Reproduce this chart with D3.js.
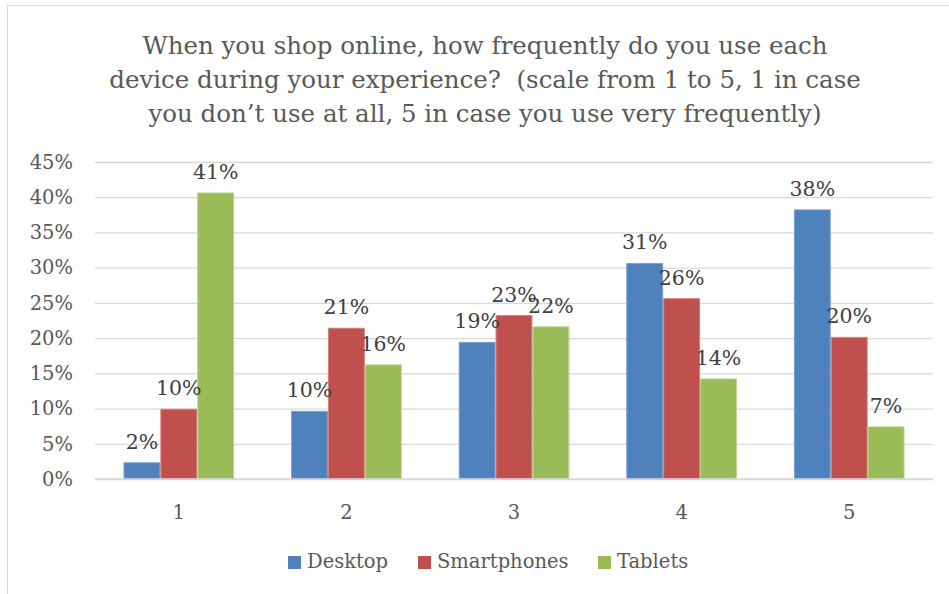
<!DOCTYPE html>
<html>
<head>
<meta charset="utf-8">
<script src="https://cdn.jsdelivr.net/npm/d3@7"></script>
<style>
  html, body { margin: 0; padding: 0; background: #ffffff; }
  svg { display: block; }
  text { font-family: "DejaVu Serif", "Liberation Serif", serif; }
</style>
</head>
<body>
<svg id="chart" width="949" height="594"></svg>
<script>
// Survey answers on a 1–5 usage scale, share of respondents per device
const categories = ["1", "2", "3", "4", "5"];
const seriesNames = ["Desktop", "Smartphones", "Tablets"];
const desktop = [0.023, 0.096, 0.194, 0.306, 0.382];
const smartphones = [0.099, 0.214, 0.232, 0.256, 0.201];
const tablets = [0.406, 0.162, 0.216, 0.142, 0.074];
const yTicks = [0, 0.05, 0.10, 0.15, 0.20, 0.25, 0.30, 0.35, 0.40, 0.45];
const titleLines = [
  "When you shop online, how frequently do you use each",
  "device during your experience?  (scale from 1 to 5, 1 in case",
  "you don\u2019t use at all, 5 in case you use very frequently)"
];

const seriesValues = [desktop, smartphones, tablets];
const colors = ["#4f81bd", "#c0504d", "#9bbb59"];
const strokes = ["#7aa0d2", "#d67d7b", "#b9d08a"];

const svg = d3.select("#chart");
const pct = d3.format(".0%");

// chart frame (runs off the right and bottom edges)
svg.append("rect")
  .attr("x", 7.5).attr("y", 5.5)
  .attr("width", 960).attr("height", 620)
  .attr("fill", "#ffffff")
  .attr("stroke", "#d9d9d9").attr("stroke-width", 1);

// title
svg.append("g")
  .selectAll("text")
  .data(titleLines)
  .join("text")
  .attr("x", 485)
  .attr("y", (d, i) => 54 + i * 34)
  .attr("text-anchor", "middle")
  .attr("font-size", 24.5)
  .attr("fill", "#595959")
  .style("white-space", "pre")
  .text(d => d);

const x = d3.scaleBand()
  .domain(categories)
  .range([95, 933])
  .paddingInner(0.34)
  .paddingOuter(0.17);

const xs = d3.scaleBand()
  .domain(seriesNames)
  .range([0, x.bandwidth()]);

const y = d3.scaleLinear()
  .domain([0, 0.45])
  .range([479, 162]);

// horizontal gridlines + y labels
const yAxis = d3.axisLeft(y)
  .tickValues(yTicks)
  .tickFormat(pct)
  .tickSize(-(933 - 95))
  .tickPadding(22);

const gy = svg.append("g")
  .attr("transform", "translate(95,0)")
  .call(yAxis);
gy.select(".domain").remove();
gy.selectAll(".tick line")
  .attr("stroke", "#d9d9d9")
  .attr("stroke-width", 1.3);
gy.selectAll(".tick text")
  .attr("font-size", 19.5)
  .attr("fill", "#595959")
  .attr("font-family", "DejaVu Serif, serif");

// bars
const groups = svg.append("g")
  .selectAll("g")
  .data(categories)
  .join("g")
  .attr("transform", d => `translate(${x(d)},0)`);

groups.selectAll("rect")
  .data((c, ci) => seriesNames.map((s, si) => ({ s, si, v: seriesValues[si][ci] })))
  .join("rect")
  .attr("x", d => xs(d.s) + 0.5)
  .attr("width", xs.bandwidth() - 1)
  .attr("y", d => y(d.v))
  .attr("height", d => y(0) - y(d.v))
  .attr("fill", d => colors[d.si])
  .attr("stroke", d => strokes[d.si])
  .attr("stroke-width", 1);

// value labels
groups.selectAll("text")
  .data((c, ci) => seriesNames.map((s, si) => ({ s, si, v: seriesValues[si][ci] })))
  .join("text")
  .attr("x", d => xs(d.s) + xs.bandwidth() / 2)
  .attr("y", d => y(d.v) - 14)
  .attr("text-anchor", "middle")
  .attr("font-size", 20.5)
  .attr("fill", "#404040")
  .text(d => pct(d.v));

// baseline axis
svg.append("line")
  .attr("x1", 95).attr("x2", 933)
  .attr("y1", y(0)).attr("y2", y(0))
  .attr("stroke", "#d9d9d9").attr("stroke-width", 1.3);

// category labels
const xAxis = d3.axisBottom(x).tickSize(0).tickPadding(26);
const gx = svg.append("g")
  .attr("transform", `translate(0,${y(0)})`)
  .call(xAxis);
gx.select(".domain").remove();
gx.selectAll(".tick text")
  .attr("font-size", 19.5)
  .attr("fill", "#595959")
  .attr("font-family", "DejaVu Serif, serif");

// legend
const legendX = [288, 418, 598];
const legend = svg.append("g")
  .selectAll("g")
  .data(seriesNames)
  .join("g")
  .attr("transform", (d, i) => `translate(${legendX[i]},556)`);
legend.append("rect")
  .attr("width", 13).attr("height", 13)
  .attr("fill", (d, i) => colors[i]);
legend.append("text")
  .attr("x", 19)
  .attr("y", 12)
  .attr("font-size", 19.5)
  .attr("fill", "#595959")
  .text(d => d);
</script>
</body>
</html>
